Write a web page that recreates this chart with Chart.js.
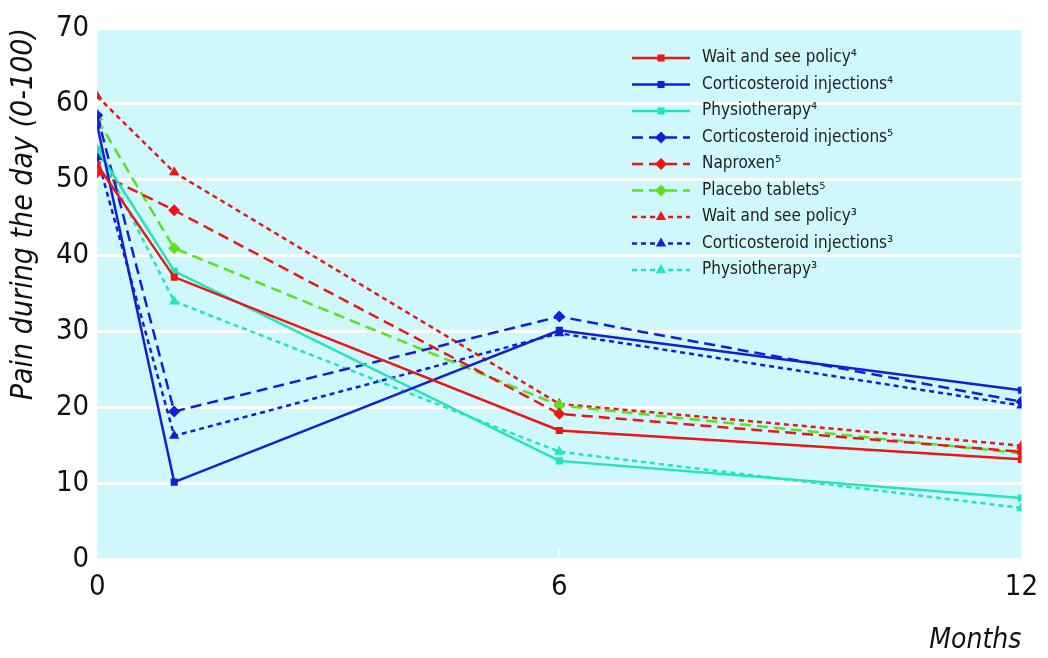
<!DOCTYPE html>
<html>
<head>
<meta charset="utf-8">
<script src="https://cdn.jsdelivr.net/npm/chart.js@4.4.1/dist/chart.umd.min.js"></script>
<style>
  html, body { margin: 0; padding: 0; background: #fff; }
  #wrap { width: 1048px; height: 658px; }
</style>
</head>
<body>
<div id="wrap"><canvas id="painChart" width="1048" height="658"></canvas></div>
<script>
// Months of follow-up
const months = [0, 1, 6, 12];
const yTicks = [0, 10, 20, 30, 40, 50, 60, 70];

// Series (pain during the day, 0-100)
const labels = [
    'Wait and see policy⁴',
    'Corticosteroid injections⁴',
    'Physiotherapy⁴',
    'Corticosteroid injections⁵',
    'Naproxen⁵',
    'Placebo tablets⁵',
    'Wait and see policy³',
    'Corticosteroid injections³',
    'Physiotherapy³'
];
const waitSee4 = [52, 37.2, 17, 13.2];
const cortico4 = [57.2, 10.2, 30.2, 22.3];
const physio4 = [54, 38, 13, 8.1];
const cortico5 = [58.5, 19.5, 32, 20.8];
const naproxen5 = [51, 46, 19.2, 14.2];
const placebo5 = [58, 41, 20.3, 14];
const waitSee3 = [61, 51, 20.5, 15];
const cortico3 = [53, 16.3, 29.8, 20.3];
const physio3 = [54, 34, 14.2, 6.8];

const RED = '#f01515';
const BLUE = '#1020d8';
const CYAN = '#22e6b8';
const GREEN = '#5fe01c';
const FONT = "'Liberation Sans Narrow', 'DejaVu Sans Condensed', 'Liberation Sans', sans-serif";

const series = [waitSee4, cortico4, physio4, cortico5, naproxen5, placebo5, waitSee3, cortico3, physio3];
const colors = [RED, BLUE, CYAN, BLUE, RED, GREEN, RED, BLUE, CYAN];
const shapes = ['rect', 'rect', 'rect', 'rectRot', 'rectRot', 'rectRot', 'triangle', 'triangle', 'triangle'];
const dashes = [[], [], [], [11, 6], [11, 6], [11, 6], [5, 4], [5, 4], [5, 4]];

const datasets = series.map((vals, i) => ({
    label: labels[i],
    data: vals.map((v, j) => ({ x: months[j], y: v })),
    borderColor: colors[i],
    backgroundColor: colors[i],
    borderWidth: 2.5,
    borderDash: dashes[i],
    pointStyle: shapes[i],
    pointRadius: shapes[i] === 'rect' ? 5 : 6,
    pointBorderWidth: 0,
    tension: 0
}));

// cyan plot background
const plotBg = {
    id: 'plotBg',
    beforeDraw(chart) {
        const { ctx, chartArea: a } = chart;
        ctx.save();
        ctx.fillStyle = '#cef8fb';
        ctx.fillRect(a.left, a.top, a.right - a.left, a.bottom - a.top);
        // small white tick at 6 months
        const x6 = chart.scales.x.getPixelForValue(6);
        ctx.strokeStyle = '#ffffff';
        ctx.lineWidth = 2;
        ctx.beginPath();
        ctx.moveTo(x6, a.bottom - 12);
        ctx.lineTo(x6, a.bottom);
        ctx.stroke();
        ctx.restore();
    }
};

// legend with line + marker samples, drawn inside the plot
const lineLegend = {
    id: 'lineLegend',
    afterDraw(chart) {
        const { ctx } = chart;
        const x0 = 632, x1 = 690, tx = 702;
        let y = 58;
        ctx.save();
        chart.data.datasets.forEach(ds => {
            ctx.strokeStyle = ds.borderColor;
            ctx.lineWidth = 2.5;
            ctx.setLineDash(ds.borderDash);
            ctx.beginPath();
            ctx.moveTo(x0, y);
            ctx.lineTo(x1, y);
            ctx.stroke();
            ctx.setLineDash([]);
            ctx.fillStyle = ds.backgroundColor;
            Chart.helpers.drawPoint(ctx, { pointStyle: ds.pointStyle, radius: ds.pointRadius, borderWidth: 0 }, (x0 + x1) / 2, y);
            ctx.fillStyle = '#222';
            ctx.font = '17px ' + FONT;
            ctx.textBaseline = 'middle';
            ctx.fillText(ds.label, tx, y);
            y += 26.5;
        });
        ctx.restore();
    }
};

new Chart(document.getElementById('painChart').getContext('2d'), {
    type: 'line',
    data: { datasets },
    plugins: [plotBg, lineLegend],
    options: {
        responsive: false,
        animation: false,
        layout: { padding: { top: 28, right: 12, bottom: 0, left: 6 } },
        plugins: { legend: { display: false }, tooltip: { enabled: false } },
        scales: {
            x: {
                type: 'linear',
                min: 0,
                max: 12,
                afterBuildTicks: (axis) => { axis.ticks = months.filter(m => m !== 1).map(v => ({ value: v })); },
                grid: { display: false, drawTicks: false },
                border: { display: false },
                ticks: { color: '#111', font: { family: FONT, size: 29 }, padding: 10 },
                title: { display: true, text: 'Months', align: 'end', color: '#111', font: { family: FONT, size: 28, style: 'italic' }, padding: { top: 10, bottom: 0 } }
            },
            y: {
                min: 0,
                max: 70,
                afterBuildTicks: (axis) => { axis.ticks = yTicks.map(v => ({ value: v })); },
                grid: { color: '#ffffff', lineWidth: 3, drawTicks: false },
                border: { display: false },
                ticks: { color: '#111', font: { family: FONT, size: 29 }, padding: 8 },
                title: { display: true, text: 'Pain during the day (0-100)', align: 'end', color: '#111', font: { family: FONT, size: 30, style: 'italic' }, padding: { top: 0, bottom: 6 } }
            }
        }
    }
});
</script>
</body>
</html>
